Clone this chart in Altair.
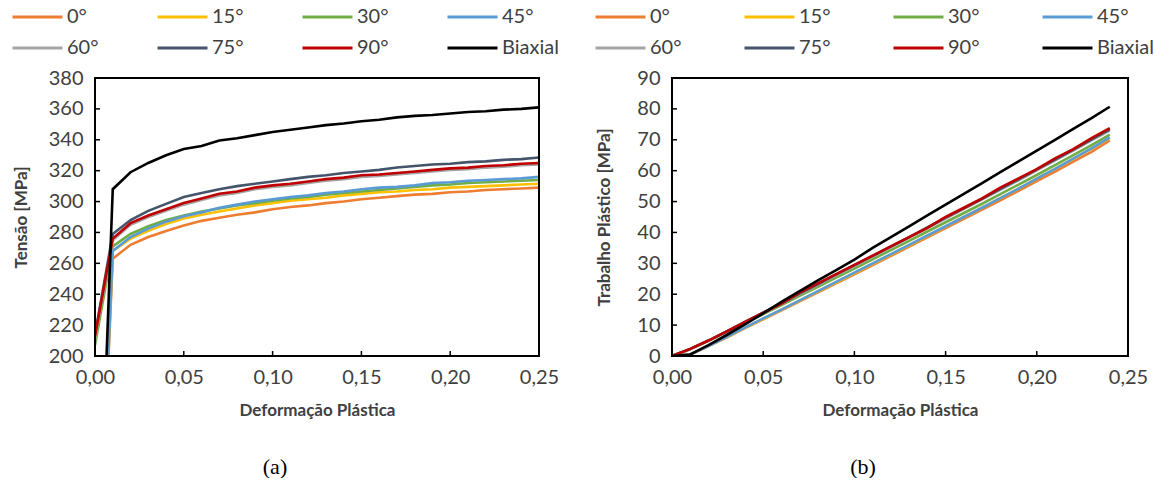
import altair as alt
import pandas as pd

# Series names and Excel-style colours
series = ["0°", "15°", "30°", "45°", "60°", "75°", "90°", "Biaxial"]
colors = ["#ED7D31", "#FFC000", "#70AD47", "#5B9BD5", "#A5A5A5", "#44546A", "#C00000", "#000000"]

# (a) flow curves: plastic strain vs. stress [MPa]
strain_a = [0.00, 0.01, 0.02, 0.03, 0.04, 0.05, 0.06, 0.07, 0.08, 0.09, 0.10, 0.11, 0.12,
            0.13, 0.14, 0.15, 0.16, 0.17, 0.18, 0.19, 0.20, 0.21, 0.22, 0.23, 0.24, 0.25]
stress_0 = [0, 263, 272, 277, 281, 284.5, 287.5, 289.5, 291.5, 293, 295, 296.5, 297.5, 299, 300,
            301.5, 302.5, 303.5, 304.5, 305, 306, 306.5, 307.5, 308, 308.5, 309]
stress_15 = [0, 268, 276, 281, 285.5, 289, 291.5, 293.5, 295.5, 297.5, 299, 300.5, 301.5, 302.5, 304,
             305, 306, 306.5, 307.5, 308, 309, 309.5, 310, 310.5, 311, 311.5]
stress_30 = [207, 271, 279, 284, 288, 291, 293.5, 295.5, 297.5, 299, 300.5, 302, 303, 304.5, 305.5,
             306.5, 307.5, 308.5, 309.5, 310.5, 311, 312, 312.5, 313, 313.5, 314]
stress_45 = [0, 268, 277, 282.5, 287, 290.5, 293, 296, 298, 300, 301.5, 303, 304, 305.5, 306.5,
             308, 309, 309.5, 310.5, 312, 312.5, 313.5, 314, 314.5, 315, 316]
stress_60 = [211, 275, 285, 290, 294, 298, 301, 304, 305.5, 308, 309.5, 310.5, 312, 313.5, 314.5,
             316, 316.5, 317.5, 318.5, 319.5, 320.5, 321, 322, 322.5, 323.5, 324]
stress_75 = [214, 279, 288, 294, 298.5, 303, 305.5, 308, 310, 311.5, 313, 314.5, 316, 317, 318.5,
             319.5, 320.5, 322, 323, 324, 324.5, 325.5, 326, 327, 327.5, 328.5]
stress_90 = [213, 276, 286, 291, 295, 299, 302, 305, 306.5, 309, 310.5, 311.5, 313, 314.5, 315.5,
             317, 317.5, 318.5, 319.5, 320.5, 321.5, 322, 323, 323.5, 324.5, 325]
stress_bi = [0, 308, 319, 325, 330, 334, 336, 339.5, 341, 343, 345, 346.5, 348, 349.5, 350.5,
             352, 353, 354.5, 355.5, 356, 357, 358, 358.5, 359.5, 360, 361]

# (b) plastic work [MPa] vs. plastic strain
strain_b = strain_a[:-1]
work_0 = [0, 0.5, 3.2, 6.0, 9.0, 11.9, 14.8, 17.7, 20.6, 23.5, 26.4, 29.4, 32.4, 35.4, 38.4, 41.4,
          44.4, 47.4, 50.4, 53.5, 56.6, 59.7, 62.9, 66.1, 69.8]
work_15 = [0, 0.5, 3.3, 6.1, 9.1, 12.0, 15.0, 17.9, 20.9, 23.8, 26.8, 29.8, 32.8, 35.8, 38.8, 41.9,
           45.0, 48.0, 51.1, 54.2, 57.4, 60.6, 63.8, 67.1, 70.6]
work_30 = [0, 2.2, 4.9, 7.8, 10.7, 13.6, 16.5, 19.5, 22.4, 25.4, 28.3, 31.3, 34.3, 37.3, 40.3, 43.3,
           46.3, 49.3, 52.4, 55.5, 58.6, 61.8, 65.0, 68.3, 71.7]
work_45 = [0, 0.5, 3.2, 6.2, 9.2, 12.2, 15.0, 18.0, 21.0, 24.0, 27.0, 30.0, 33.0, 36.0, 39.0, 42.0,
           45.0, 48.0, 51.1, 54.2, 57.4, 60.6, 63.9, 67.2, 70.8]
work_60 = [0, 2.2, 5.0, 7.9, 10.9, 13.9, 16.9, 20.0, 23.0, 26.1, 29.1, 32.2, 35.2, 38.3, 41.4, 44.5,
           47.6, 50.7, 53.8, 56.9, 60.1, 63.3, 66.5, 69.8, 73.0]
work_75 = [0, 2.3, 5.0, 8.0, 11.0, 14.0, 17.0, 20.3, 23.3, 26.4, 29.4, 32.4, 35.5, 38.5, 41.6, 44.8,
           47.8, 50.9, 54.1, 57.2, 60.4, 63.6, 66.8, 70.1, 73.4]
work_90 = [0, 2.3, 5.0, 8.0, 11.0, 14.0, 17.0, 20.5, 23.5, 26.5, 29.5, 32.5, 35.5, 38.5, 41.5, 45.0,
           48.0, 51.0, 54.5, 57.5, 60.5, 64.0, 67.0, 70.5, 73.8]
work_bi = [0, 0.5, 3.5, 6.8, 10.2, 13.8, 17.5, 21.0, 24.5, 27.8, 31.2, 35.0, 38.5, 42.0, 45.5, 49.0,
           52.5, 56.0, 59.5, 63.0, 66.5, 70.0, 73.5, 77.0, 80.7]

# Axis tick values
x_ticks = [0.0, 0.05, 0.10, 0.15, 0.20, 0.25]
y_ticks_a = [200, 220, 240, 260, 280, 300, 320, 340, 360, 380]
y_ticks_b = [0, 10, 20, 30, 40, 50, 60, 70, 80, 90]

FONT = "Lato"
TXT = "#404040"


def long_table(xs, columns):
    rows = []
    for name, ys in zip(series, columns):
        for x, y in zip(xs, ys):
            rows.append({"series": name, "strain": x, "value": y})
    return pd.DataFrame(rows)


def panel(df, y_domain, y_ticks, y_title, y_title_pad, w, h, leg_x, leg_y, col_pad, caption, cap_dx):
    comma = "replace(format(datum.value, '.2f'), '.', ',')"
    x_scale = alt.Scale(domain=[0, 0.25], nice=False)
    y_scale = alt.Scale(domain=y_domain, nice=False, zero=False)
    x_axis = alt.Axis(values=x_ticks, labelExpr=comma, title="Deformação Plástica",
                      labelFlush=False, labelPadding=11, titlePadding=15)
    y_axis = alt.Axis(values=y_ticks, title=y_title, labelFlush=False,
                      labelPadding=12, titlePadding=y_title_pad)
    lines = alt.Chart(df).mark_line(clip=True, strokeWidth=2.6).encode(
        x=alt.X("strain:Q", scale=x_scale, axis=x_axis),
        y=alt.Y("value:Q", scale=y_scale, axis=y_axis),
        color=alt.Color("series:N", sort=series,
                        scale=alt.Scale(domain=series, range=colors),
                        legend=alt.Legend(orient="none", legendX=leg_x, legendY=leg_y,
                                          direction="horizontal", columns=4, title=None,
                                          symbolType="stroke", symbolSize=2500, symbolStrokeWidth=3,
                                          clipHeight=18,
                                          labelFont=FONT, labelFontSize=20, labelColor=TXT,
                                          labelOffset=3, columnPadding=col_pad, rowPadding=11)),
    )
    # inward tick marks, as on the source chart
    xt = alt.Chart(pd.DataFrame({"strain": x_ticks})).mark_rule(color="black", strokeWidth=1.5).encode(
        x=alt.X("strain:Q", scale=x_scale, axis=x_axis), y=alt.value(h), y2=alt.value(h - 5))
    yt = alt.Chart(pd.DataFrame({"value": y_ticks})).mark_rule(color="black", strokeWidth=1.5).encode(
        y=alt.Y("value:Q", scale=y_scale, axis=y_axis), x=alt.value(0), x2=alt.value(5))
    # plot-area border
    frame = alt.Chart(pd.DataFrame({"value": [y_domain[0]]})).mark_rect(
        fill=None, stroke="black", strokeWidth=2
    ).encode(x=alt.value(0), x2=alt.value(w), y=alt.value(0), y2=alt.value(h))
    return alt.layer(xt, yt, lines, frame).properties(
        width=w, height=h,
        title=alt.TitleParams(caption, orient="bottom", font="Liberation Serif", fontSize=22,
                              fontWeight="normal", color="black", frame="group",
                              anchor="middle", dx=cap_dx, offset=39),
    )


left = panel(long_table(strain_a, [stress_0, stress_15, stress_30, stress_45,
                                   stress_60, stress_75, stress_90, stress_bi]),
             [200, 380], y_ticks_a, "Tensão [MPa]", 18, 444, 278, -84, -70, 57, "(a)", -42)
right = panel(long_table(strain_b, [work_0, work_15, work_30, work_45,
                                    work_60, work_75, work_90, work_bi]),
              [0, 90], y_ticks_b, "Trabalho Plástico [MPa]", 23, 456, 278, -78, -70, 61, "(b)", -37)

chart = alt.hconcat(left, right, spacing=35).resolve_scale(color="independent").properties(
    padding={"left": 11, "top": 8, "right": 0, "bottom": 0}
).configure_view(stroke=None).configure_axis(
    domain=False, ticks=False, grid=False,
    labelFont=FONT, labelFontSize=20, labelColor=TXT,
    titleFont=FONT, titleFontSize=17, titleFontWeight="bold", titleColor=TXT,
)

chart.save("out.html", embed_options={"renderer": "svg", "actions": False})
